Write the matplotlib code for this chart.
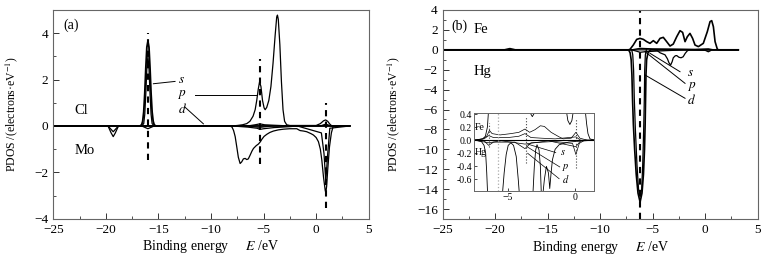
import matplotlib
matplotlib.use("Agg")
import matplotlib.pyplot as plt
from matplotlib.ticker import MultipleLocator, FormatStrFormatter

plt.rcParams['font.family'] = ['Liberation Serif', 'DejaVu Serif']
plt.rcParams['mathtext.fontset'] = 'stix'
plt.rcParams['xtick.direction'] = 'in'
plt.rcParams['ytick.direction'] = 'in'

# ---------------- panel (a): Cl (up) / Mo (down) ----------------
cl_s_E = [-25, -16.75, -16.6, -16.5, -16.4, -16.3, -16.2, -16.1, -16.0, -15.9, -15.8, -15.7, -15.6, -15.5, -15.4, -15.25, 3.2]
cl_s_v = [0, 0, 0.05, 0.2, 0.6, 1.4, 2.5, 3.4, 3.65, 3.4, 2.5, 1.4, 0.6, 0.2, 0.05, 0, 0]
cl_s2_E = [-16.6, -16.4, -16.3, -16.2, -16.1, -16.0, -15.9, -15.8, -15.7, -15.6, -15.4]
cl_s2_v = [0, 0.1, 0.5, 1.4, 2.5, 3.0, 2.5, 1.4, 0.5, 0.1, 0]
cl_p_E = [-25, -8.0, -7.5, -7.0, -6.6, -6.3, -6.0, -5.8, -5.65, -5.5, -5.38, -5.25, -5.1, -4.95, -4.85, -4.7,
          -4.5, -4.3, -4.1, -3.9, -3.75, -3.68, -3.6, -3.45, -3.3, -3.15, -3.0, -2.8, -2.5, 0.0, 0.4, 0.7,
          0.9, 1.1, 1.3, 1.5, 3.2]
cl_p_v = [0, 0, 0.02, 0.05, 0.1, 0.2, 0.42, 0.7, 1.1, 1.6, 1.9, 1.7, 1.1, 0.78, 0.7, 0.8,
          1.1, 1.7, 2.7, 3.9, 4.7, 4.78, 4.6, 3.5, 1.9, 0.7, 0.2, 0.05, 0.02, 0.02, 0.1, 0.22,
          0.26, 0.2, 0.08, 0, 0]
cl_d_E = [-25, -6.5, -5.8, -5.35, -4.9, -4.0, -2.5, 0.4, 0.92, 1.4, 3.2]
cl_d_v = [0, 0, 0.05, 0.09, 0.05, 0.03, 0, 0, 0.08, 0, 0]
mo_s_E = [-25, -19.8, -19.5, -19.3, -19.1, -18.8, -16.6, -16.3, -16.0, -15.7, -15.4, -6.5, -5.35, -4.2, 3.2]
mo_s_v = [0, 0, -0.15, -0.25, -0.15, 0, 0, -0.06, -0.12, -0.06, 0, 0, -0.06, 0, 0]
mo_p_E = [-25, -19.8, -19.5, -19.3, -19.1, -18.8, -8.0, -6.5, -5.6, -5.35, -5.0, -4.0, -2.5, -1.8, 0.5, 0.75,
          0.92, 1.1, 1.3, 3.2]
mo_p_v = [0, 0, -0.3, -0.46, -0.3, 0, 0, -0.05, -0.1, -0.15, -0.12, -0.07, -0.03, 0, -0.3, -1.2,
          -2.4, -1.2, -0.1, 0]
mo_d_E = [-25, -8.2, -8.0, -7.85, -7.7, -7.55, -7.4, -7.23, -7.08, -6.92, -6.75, -6.6, -6.45, -6.28, -6.1,
          -5.96, -5.7, -5.49, -5.3, -5.17, -4.95, -4.69, -4.4, -4.06, -3.6, -3.11, -2.5, -1.84, -1.65,
          -1.52, -1.2, -0.89, -0.5, -0.26, 0.0, 0.22, 0.4, 0.54, 0.7, 0.86, 0.92, 1.0, 1.1, 1.27, 1.45,
          1.6, 1.7, 3.2]
mo_d_v = [0, 0, -0.05, -0.2, -0.46, -0.9, -1.35, -1.62, -1.55, -1.42, -1.4, -1.45, -1.42, -1.26, -1.08,
          -0.97, -0.85, -0.78, -0.68, -0.58, -0.45, -0.36, -0.28, -0.22, -0.17, -0.14, -0.12, -0.12, -0.17,
          -0.2, -0.22, -0.25, -0.33, -0.39, -0.5, -0.68, -1.0, -1.47, -2.2, -2.77, -2.88, -2.6, -1.9, -0.9, -0.3,
          -0.05, 0, 0]

dash_a_E = [-16.0, -5.35, 0.92]
dash_a_lo = [-1.45, -1.62, -3.56]
dash_a_hi = [4.0, 2.9, 0.98]

# leader lines and labels for panel (a)
lead_a = {'s': ([-15.48, -13.42], [1.82, 1.92]),
          'p': ([-11.5, -5.65], [1.34, 1.34]),
          'd': ([-12.5, -10.72], [0.82, 0.09])}
lab_a_E = [-12.8, -12.8, -12.75]
lab_a_v = [1.96, 1.36, 0.74]

# ---------------- panel (b): Fe (up) / Hg (down) ----------------
fe_d_E = [-25, -19.1, -18.9, -18.6, -18.3, -18.1, -7.3, -7.16, -6.85, -6.52, -6.21, -5.89, -5.57, -5.26, -4.94,
          -4.62, -4.3, -3.99, -3.67, -3.35, -3.04, -2.71, -2.4, -2.15, -1.92, -1.7, -1.45, -1.2, -0.97,
          -0.65, -0.18, 0.2, 0.46, 0.62, 0.78, 0.94, 1.16, 1.3, 3.15]
fe_d_v = [0, 0, 0.05, 0.12, 0.05, 0, 0, 0.05, 0.48, 1.05, 1.15, 1.05, 0.82, 0.65, 0.92,
          0.65, 1.15, 1.25, 0.82, 0.38, 0.58, 1.32, 1.92, 1.75, 0.82, 1.32, 1.65, 1.15, 0.48,
          0.32, 0.65, 1.82, 2.83, 2.93, 2.32, 0.82, 0.05, 0, 0]
fe_sp_E = [-25, -7.0, -6.2, -5.0, -3.0, -1.0, 0.3, 0.8, 3.15]
fe_sp_v = [0, 0, 0.15, 0.1, 0.08, 0.05, 0.1, 0, 0]
hg_d_E = [-25, -7.3, -7.15, -7.05, -6.98, -6.92, -6.84, -6.72, -6.57, -6.4, -6.2, -6.02, -5.88, -5.78,
          -5.72, -5.68, -5.64, -5.58, -5.45, -5.2, 3.15]
hg_d_v = [0, 0, -0.3, -1.0, -2.5, -5.0, -7.5, -10.0, -12.5, -14.4, -15.3, -14.4, -12.5, -10.0,
          -7.5, -5.0, -2.5, -1.0, -0.3, 0, 0]
hg_d2_E = [-7.0, -6.9, -6.82, -6.75, -6.65, -6.5, -6.35, -6.2, -6.05, -5.95, -5.86, -5.8, -5.76, -5.7, -5.6]
hg_d2_v = [0, -0.5, -2.0, -5.0, -8.0, -11.5, -14.0, -14.8, -14.0, -11.5, -8.0, -5.0, -2.0, -0.5, 0]
hg_p_E = [-25, -19.0, -18.6, -18.2, -5.0, -4.6, -4.3, -3.83, -3.6, -3.45, -3.3, -3.15, -3.04, -2.85, -2.71,
          -2.5, -2.3, -2.1, -1.9, -1.7, -1.5, 3.15]
hg_p_v = [0, 0, -0.06, 0, 0, -0.05, -0.3, -0.5, -0.9, -1.3, -1.55, -1.2, -0.8, -0.6, -0.58,
          -0.75, -0.8, -0.7, -0.35, -0.1, 0, 0]
hg_s_E = [-25, -7.0, -6.5, -6.2, -5.8, -5.0, -4.0, -3.0, -2.0, 0.0, 0.3, 0.6, 1.0, 3.15]
hg_s_v = [0, 0, -0.15, -0.25, -0.2, -0.15, -0.1, -0.05, -0.02, -0.05, -0.2, -0.03, 0, 0]

dash_b_E = [-6.2]

lead_b = {'s': ([-5.26, -2.4], [-0.35, -2.2]),
          'p': ([-5.73, -1.92], [-0.19, -3.37]),
          'd': ([-5.73, -1.92], [-2.53, -4.87])}
lab_b_E = [-1.7, -1.7, -1.7]
lab_b_v = [-2.3, -3.7, -5.05]

# ---------------- inset of (b) ----------------
in_fe_E = [-7.55, -6.9, -6.7, -6.55, -6.45, -6.3, -5.0, -3.7, -3.45, -3.2, -2.95, -2.7, -1.0, -0.7, -0.55,
           -0.4, -0.25, -0.1, 0.1, 0.6, 0.75, 0.85, 0.95, 1.1, 1.4]
in_fe_v = [0, 0.02, 0.06, 0.2, 0.5, 1.0, 1.0, 0.7, 0.45, 0.36, 0.45, 0.9, 1.0, 0.5, 0.3,
           0.24, 0.3, 0.5, 1.0, 1.0, 0.45, 0.25, 0.1, 0.02, 0]
in_fep_E = [-7.55, -6.9, -6.6, -6.4, -6.2, -5.6, -4.8, -4.2, -3.75, -3.4, -3.0, -2.6, -2.3, -1.8, -1.2,
            -0.9, -0.3, 0.05, 0.35, 0.9, 1.4]
in_fep_v = [0, 0.02, 0.06, 0.15, 0.1, 0.08, 0.1, 0.12, 0.17, 0.12, 0.16, 0.22, 0.21, 0.12, 0.05,
            0.02, 0.03, 0.12, 0.03, 0, 0]
in_fes_E = [-7.55, -6.8, -6.45, -6.1, -5.0, -4.2, -3.75, -3.3, -2.5, -1.5, 0.05, 0.4, 1.4]
in_fes_v = [0, 0.02, 0.07, 0.04, 0.04, 0.06, 0.1, 0.04, 0.03, 0.02, 0.05, 0, 0]
in_hg_E = [-7.55, -7.3, -7.0, -6.8, -6.68, -6.6, -6.5, -5.5, -5.3, -5.15, -5.0, -4.8, -4.6, -4.4, -4.25,
           -4.1, -3.2, -3.05, -2.95, -2.85, -2.7, -2.6, -2.5, -2.3, -2.15, -2.0, -1.9, -1.8, -1.7,
           -1.5, -1.2, -0.5, 0.0, 1.4]
in_hg_v = [0, -0.005, -0.02, -0.08, -0.2, -0.5, -1.0, -1.0, -0.5, -0.22, -0.08, -0.04, -0.08, -0.25, -0.6,
           -1.0, -1.0, -0.4, -0.15, -0.07, -0.15, -0.4, -1.0, -0.6, -0.4, -0.5, -0.74, -0.5, -0.3,
           -0.14, -0.07, -0.03, -0.02, 0]
in_hgp_E = [-7.55, -6.8, -6.45, -6.1, -4.5, -3.75, -3.3, -1.5, -0.2, 0.05, 0.3, 0.7, 1.4]
in_hgp_v = [0, -0.01, -0.08, -0.03, -0.03, -0.13, -0.04, -0.02, -0.05, -0.22, -0.05, 0, 0]
in_hgs_E = [-7.55, -6.45, -5.5, -3.75, -2.0, 0.05, 0.4, 1.4]
in_hgs_v = [0, -0.04, -0.01, -0.06, -0.01, -0.1, -0.01, 0]

in_dot_E = [-6.45, -3.7, 0.05]
in_dot_lo = [-0.1, -0.35, -0.43]
in_dot_hi = [0.27, 0.35, 0.33]
in_gray_E = -5.75

lead_in = {'s': ([-3.55, -1.45], [-0.06, -0.19]),
           'p': ([-3.6, -1.15], [-0.1, -0.41]),
           'd': ([-3.55, -1.2], [-0.2, -0.59])}
lab_in_E = [-1.1, -0.95, -0.98]
lab_in_v = [-0.19, -0.42, -0.6]

W, H = 769, 258
fig = plt.figure(figsize=(W / 100, H / 100), dpi=100)
axa = fig.add_axes([53.3 / W, 1 - 218.7 / H, 315.4 / W, 208.7 / H])
axb = fig.add_axes([442.7 / W, 1 - 219 / H, 315 / W, 209 / H])

lw = 0.9
for E, v in [(cl_p_E, cl_p_v), (cl_d_E, cl_d_v), (mo_s_E, mo_s_v), (mo_p_E, mo_p_v),
             (mo_d_E, mo_d_v), (cl_s2_E, cl_s2_v)]:
    axa.plot(E, v, color='black', lw=lw)
axa.plot(cl_s_E, cl_s_v, color='black', lw=1.3)
axa.vlines(dash_a_E, dash_a_lo, dash_a_hi, colors='black', linestyles=(0, (3, 2.5)), lw=1.5)

for k, (E, v) in lead_a.items():
    axa.plot(E, v, color='black', lw=0.7)
for k, x, y in zip(['s', 'p', 'd'], lab_a_E, lab_a_v):
    axa.text(x, y, '$\\it{' + k + '}$', fontsize=9.5, ha='center', va='center')
axa.text(-23.0, 0.65, 'Cl', fontsize=10.5, va='center')
axa.text(-23.0, -1.07, 'Mo', fontsize=10.5, va='center')
axa.text(-24.0, 4.33, '(a)', fontsize=10, va='center')

axa.set_xlim(-25, 5)
axa.set_ylim(-4, 5)
axa.yaxis.set_major_locator(MultipleLocator(2))
axa.yaxis.set_minor_locator(MultipleLocator(1))

for E, v in [(fe_sp_E, fe_sp_v), (hg_p_E, hg_p_v), (hg_s_E, hg_s_v), (hg_d2_E, hg_d2_v)]:
    axb.plot(E, v, color='black', lw=lw)
axb.plot(fe_d_E, fe_d_v, color='black', lw=1.2)
axb.plot(hg_d_E, hg_d_v, color='black', lw=1.2)
axb.vlines(dash_b_E, -17, 4, colors='black', linestyles=(0, (3, 2.5)), lw=1.5)
for k, (E, v) in lead_b.items():
    axb.plot(E, v, color='black', lw=0.7)
for k, x, y in zip(['s', 'p', 'd'], lab_b_E, lab_b_v):
    axb.text(x, y, '$\\it{' + k + '}$', fontsize=9.5, ha='left', va='center')
axb.text(-24.2, 2.4, '(b)', fontsize=10, va='center')
axb.text(-22.1, 2.06, 'Fe', fontsize=10.5, va='center')
axb.text(-22.1, -2.2, 'Hg', fontsize=10.5, va='center')

axb.set_xlim(-25, 5)
axb.set_ylim(-17, 4)
axb.yaxis.set_major_locator(MultipleLocator(2))
axb.yaxis.set_minor_locator(MultipleLocator(1))

for ax, lx in ((axa, -0.106), (axb, -0.129)):
    ax.xaxis.set_major_locator(MultipleLocator(5))
    ax.xaxis.set_minor_locator(MultipleLocator(2.5))
    ax.tick_params(which='major', length=4, width=0.7, labelsize=9.5, colors='#333333', labelcolor='black')
    ax.tick_params(which='minor', length=2, width=0.6, colors='#333333')
    for sp in ax.spines.values():
        sp.set_color('#666666')
        sp.set_linewidth(0.8)
    ax.set_xlabel('Binding energy     $E$ /eV', fontsize=10, labelpad=2)
    ax.set_ylabel('PDOS /(electrons·eV$^{-1}$)', fontsize=8.5)
    ax.yaxis.set_label_coords(lx, 0.5)

# inset
axi = fig.add_axes([474 / W, 1 - 190.5 / H, 120 / W, 77.8 / H])
axi.plot(in_fe_E, in_fe_v, color='black', lw=0.6)
axi.plot(in_hg_E, in_hg_v, color='black', lw=0.6)
for E, v in [(in_fep_E, in_fep_v), (in_fes_E, in_fes_v), (in_hgp_E, in_hgp_v), (in_hgs_E, in_hgs_v)]:
    axi.plot(E, v, color='black', lw=0.5)
axi.axhline(0, color='black', lw=0.8)
axi.vlines(in_dot_E, in_dot_lo, in_dot_hi, colors='#444444', linestyles=':', lw=0.8)
axi.axvline(in_gray_E, color='#aaaaaa', ls=':', lw=0.9)
for k, (E, v) in lead_in.items():
    axi.plot(E, v, color='black', lw=0.5)
for k, x, y in zip(['s', 'p', 'd'], lab_in_E, lab_in_v):
    axi.text(x, y, '$\\it{' + k + '}$', fontsize=7.5, ha='left', va='center')
axi.text(-7.5, 0.2, 'Fe', fontsize=7, va='center')
axi.text(-7.5, -0.19, 'Hg', fontsize=7, va='center')
axi.set_xlim(-7.55, 1.4)
axi.set_ylim(-0.77, 0.42)
axi.set_xticks([-5, 0])
axi.set_yticks([0.4, 0.2, 0.0, -0.2, -0.4, -0.6])
axi.yaxis.set_major_formatter(FormatStrFormatter('%.1f'))
axi.tick_params(length=2.5, width=0.5, labelsize=7, pad=1.5)
for sp in axi.spines.values():
    sp.set_color('#666666')
    sp.set_linewidth(0.7)

fig.savefig('out.png', dpi=100)
